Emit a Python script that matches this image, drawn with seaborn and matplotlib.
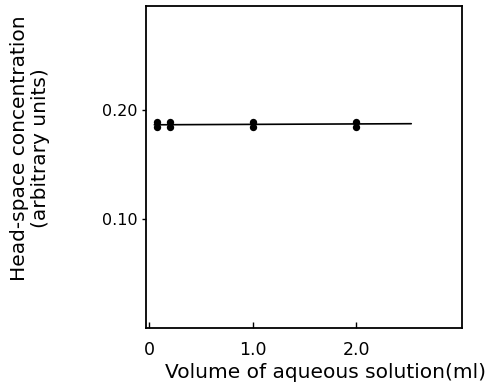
import matplotlib
matplotlib.use("Agg")
import matplotlib.pyplot as plt
import seaborn as sns
import pandas as pd

# data
volume_ml = [0.08, 0.08, 0.2, 0.2, 1.0, 1.0, 2.0, 2.0]
concentration = [0.1845, 0.1895, 0.1845, 0.1895, 0.1852, 0.1895, 0.1845, 0.1895]
fit_x = [0.05, 2.53]
fit_y = [0.1868, 0.1878]
x_ticks = [0, 1.0, 2.0]
x_tick_labels = ["0", "1.0", "2.0"]
y_ticks = [0.10, 0.20]
y_tick_labels = ["0.10", "0.20"]

sns.set_style("white")
plt.rcParams['font.family'] = ['DejaVu Sans']
plt.rcParams['text.color'] = 'black'

fig = plt.figure(figsize=(4.89, 3.91), dpi=100)
ax = fig.add_axes([0.2986, 0.1611, 0.9448 - 0.2986, 0.9847 - 0.1611])

pts = pd.DataFrame({"x": volume_ml, "y": concentration})
fit = pd.DataFrame({"x": fit_x, "y": fit_y})
sns.lineplot(data=fit, x="x", y="y", ax=ax, color="black", linewidth=1.2)
sns.scatterplot(data=pts, x="x", y="y", ax=ax, color="black", s=28,
                edgecolor="black", linewidth=0, zorder=3)

ax.set_xlim(-0.03, 3.02)
ax.set_ylim(0.0, 0.296)
ax.set_xticks(x_ticks)
ax.set_xticklabels(x_tick_labels, fontsize=12.5)
ax.set_yticks(y_ticks)
ax.set_yticklabels(y_tick_labels, fontsize=11.5)
ax.tick_params(axis="x", bottom=True, direction="in", length=4, width=1, pad=9,
               colors="black", labelcolor="black")
ax.tick_params(axis="y", left=True, direction="out", length=3, width=1, pad=3,
               colors="black", labelcolor="black")
for s in ax.spines.values():
    s.set_color("black")
    s.set_linewidth(1.3)
ax.set_xlabel("")
ax.set_ylabel("")

fig.text(0.665, 0.048, "Volume of aqueous solution(ml)", ha="center", va="center",
         fontsize=14.5, color="black")
fig.text(0.062, 0.622, "Head-space concentration\n(arbitrary units)", ha="center",
         va="center", rotation=90, fontsize=14.5, linespacing=1.15, color="black")

fig.savefig("out.png", dpi=100, facecolor="white")
